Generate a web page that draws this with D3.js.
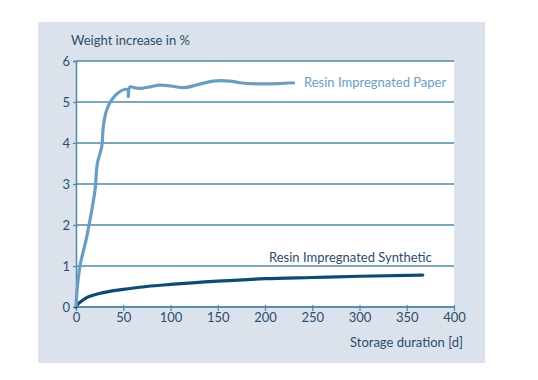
<!DOCTYPE html>
<html><head><meta charset="utf-8">
<script src="https://cdn.jsdelivr.net/npm/d3@7"></script>
<style>body{margin:0;background:#fff;}svg{display:block;}text{font-family:Lato,"Open Sans",sans-serif;}</style>
</head><body>
<script>
const paperDays = [0,1.3,4.2,10.6,14.8,20.1,22.6,27.2,28.9,32.4,37.7,44.8,53.6,55.0,55.4,55.8,57.1,62,67.7,78,88.9,100,115,130,145,163,173.5,198,215,231.7];
const paperVals = [0,0.45,1.0,1.63,2.12,2.85,3.5,3.91,4.4,4.8,5.05,5.23,5.31,5.28,5.13,5.30,5.37,5.35,5.33,5.37,5.41,5.39,5.35,5.43,5.51,5.51,5.47,5.44,5.45,5.47];
const synthDays = [0,2,5,10,25,50,75,100,150,200,250,300,367];
const synthVals = [0,0.07,0.13,0.21,0.33,0.43,0.50,0.55,0.63,0.69,0.72,0.75,0.78];
const xTicks = [0,50,100,150,200,250,300,350,400];
const yTicks = [0,1,2,3,4,5,6];
const labels = {title:"Weight increase in %", xTitle:"Storage duration [d]", paper:"Resin Impregnated Paper", synth:"Resin Impregnated Synthetic"};

const W=538,H=380;
const svg=d3.select("body").append("svg").attr("width",W).attr("height",H);
svg.append("rect").attr("x",38).attr("y",22).attr("width",447).attr("height",341).attr("fill","#dbe2eb");
const x=d3.scaleLinear().domain([0,400]).range([76,454]);
const y=d3.scaleLinear().domain([0,6]).range([307,61]);
const gridC="#4f88aa", textC="#2b4d6e";
svg.append("rect").attr("x",x(0)).attr("y",y(6)).attr("width",x(400)-x(0)).attr("height",y(0)-y(6)).attr("fill","#fff");
svg.selectAll(".grid").data(yTicks).enter().append("line")
  .attr("x1",x(0)).attr("x2",x(400)).attr("y1",d=>y(d)).attr("y2",d=>y(d))
  .attr("stroke",gridC).attr("stroke-width",1.5);
const xa=svg.append("g").attr("transform",`translate(0,${y(0)})`).call(d3.axisBottom(x).tickValues(xTicks).tickFormat(d3.format("d")).tickSize(4).tickPadding(2));
const ya=svg.append("g").attr("transform",`translate(${x(0)},0)`).call(d3.axisLeft(y).tickValues(yTicks).tickFormat(d3.format("d")).tickSize(3).tickPadding(3));
[xa,ya].forEach(a=>{a.select(".domain").attr("stroke",gridC).attr("stroke-width",1.5);
 a.selectAll(".tick line").attr("stroke",gridC).attr("stroke-width",1.2);
 a.selectAll("text").attr("fill",textC).attr("font-size",13).attr("font-family","Lato, sans-serif");});
xa.select(".domain").attr("d",`M${x(0)},0H${x(400)}`);
xa.selectAll(".tick line").attr("y1",-2);

const line=d3.line().x(d=>x(d[0])).y(d=>y(d[1])).curve(d3.curveMonotoneX);
svg.append("path").datum(d3.zip(synthDays,synthVals)).attr("d",line).attr("fill","none").attr("stroke","#0d4a74").attr("stroke-width",3.2).attr("stroke-linecap","round");
const line2=d3.line().x(d=>x(d[0])).y(d=>y(d[1])).curve(d3.curveCatmullRom.alpha(0.5));
svg.append("path").datum(d3.zip(paperDays,paperVals)).attr("d",line2).attr("fill","none").attr("stroke","#6a9dc2").attr("stroke-width",3.2).attr("stroke-linejoin","round");

svg.append("text").attr("x",71).attr("y",45).attr("fill",textC).attr("font-size",13).text(labels.title);
svg.append("text").attr("x",463).attr("y",347).attr("text-anchor","end").attr("fill",textC).attr("font-size",13).text(labels.xTitle);
svg.append("text").attr("x",304).attr("y",87).attr("fill","#6a9dc2").attr("font-size",13).text(labels.paper);
svg.append("text").attr("x",269).attr("y",262).attr("fill",textC).attr("font-size",13).text(labels.synth);
</script>
</body></html>
